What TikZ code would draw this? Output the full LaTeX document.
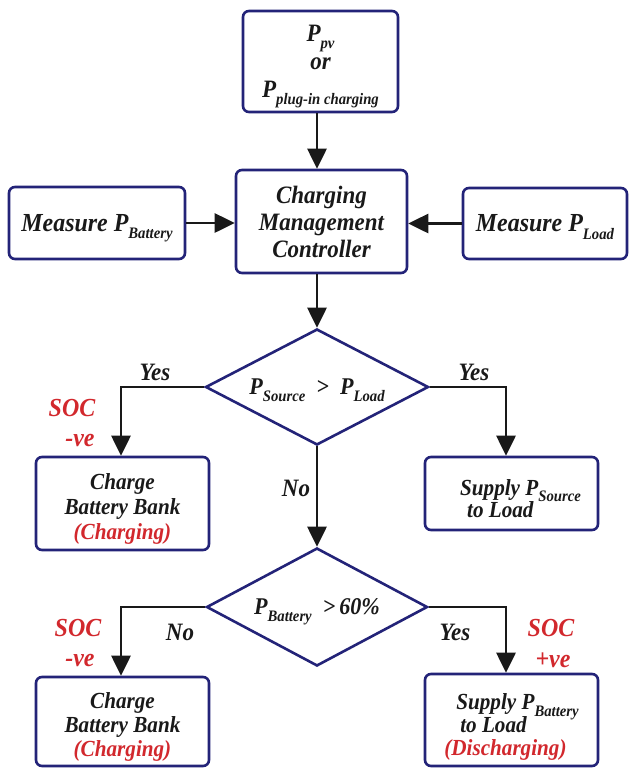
\documentclass[tikz,border=0pt]{standalone}
\usepackage{fontspec}
\setmainfont{Liberation Serif}[FakeStretch=0.92]
\usetikzlibrary{arrows.meta,shapes.geometric}
\definecolor{navy}{RGB}{35,35,120}
\definecolor{redt}{RGB}{210,40,45}
\definecolor{ink}{RGB}{25,25,25}
\newcommand{\mysub}[1]{\raisebox{-0.28em}[0pt][0pt]{\fontsize{16}{16}\selectfont #1}}
\newcommand{\myfs}[2]{\fontsize{#1}{#2}\selectfont\bfseries\itshape}
\newcommand{\mystrut}[1]{\rule{0pt}{#1}}
\tikzset{
  box/.style={draw=navy, line width=2.6pt, rounded corners=6pt, fill=white,
    align=center, inner sep=0pt, text=ink},
  dia/.style={draw=navy, line width=2.6pt, diamond, aspect=1.9, inner sep=0pt,
    fill=white, text=ink, font=\myfs{24}{26}},
  arr/.style={draw=black!90, line width=2.8pt, -{Triangle[width=19pt,length=20pt]}},
  lbl/.style={text=ink, font=\myfs{25}{26}, inner sep=0pt},
  soc/.style={text=redt, font=\myfs{26}{26}, inner sep=0pt},
}
\begin{document}
\begin{tikzpicture}[x=1pt,y=-1pt]
\useasboundingbox (0,0) rectangle (633,769);

% boxes
\node[box, minimum width=155pt, minimum height=101pt, font=\myfs{25}{28}] (src) at (320.5,61.5)
  {P\mysub{pv}\\or\\P\mysub{plug-in charging}};
\node[box, minimum width=171pt, minimum height=103pt, font=\myfs{25}{27}] (cmc) at (321.5,221.5)
  {Charging\\Management\\Controller};
\node[box, minimum width=176pt, minimum height=72pt, font=\myfs{26}{27}] (mb) at (97,223)
  {Measure P\mysub{Battery}};
\node[box, minimum width=164pt, minimum height=71pt, font=\myfs{26}{27}] (ml) at (545,223.5)
  {Measure P\mysub{Load}};

\node[dia, minimum width=223pt, minimum height=116pt] (d1) at (317,387)
  {P\mysub{Source}\ \ >\ \ P\mysub{Load}};
\node[dia, minimum width=221pt, minimum height=118pt] (d2) at (317,607)
  {P\mysub{Battery}\ \ >\,60\%};

\node[box, minimum width=173pt, minimum height=93pt, font=\myfs{23}{25}] (cb1) at (122.5,503.5)
  {\mystrut{26pt}Charge\\Battery Bank\\\textcolor{redt}{(Charging)}};
\node[box, minimum width=173pt, minimum height=73pt, font=\myfs{23}{22}, align=left] (sp1) at (511.5,493.5)
  {\hspace*{18pt}\mystrut{26pt}Supply P\mysub{Source}\\\hspace*{25pt}to Load};
\node[box, minimum width=173pt, minimum height=89pt, font=\myfs{23}{24}] (cb2) at (122.5,721.5)
  {\mystrut{26pt}Charge\\Battery Bank\\\textcolor{redt}{(Charging)}};
\node[box, minimum width=173pt, minimum height=92pt, font=\myfs{23}{23}, align=left] (sp2) at (511.5,720)
  {\hspace*{12pt}\mystrut{30pt}Supply P\mysub{Battery}\\\hspace*{16pt}to Load\\\textcolor{redt}{(Discharging)}};

% connectors
\draw[arr] (d1.north |- src.south) -- (d1.north |- cmc.north);
\draw[arr] (mb.east) -- (mb.east -| cmc.west);
\draw[arr] (ml.west) -- (ml.west -| cmc.east);
\draw[arr] (d1.north |- cmc.south) -- (d1.north);
\coordinate (c1) at (121,0);
\coordinate (c2) at (506,0);
\draw[arr] (d1.west) -| (c1 |- cb1.north);
\draw[arr] (d1.east) -| (c2 |- sp1.north);
\draw[arr] (d1.south) -- (d2.north);
\draw[arr] (d2.west) -| (c1 |- cb2.north);
\draw[arr] (d2.east) -| (c2 |- sp2.north);

% labels
\node[lbl] (y1) at (155,372) {Yes};
\node[lbl] (y2) at (474,372) {Yes};
\node[soc] (s1) at (72,408) {SOC};
\node[soc] (v1) at (80,440) {-ve};
\node[lbl] (n1) at (296,488) {No};
\node[soc] (s2) at (78,628) {SOC};
\node[soc] (v2) at (80,660) {-ve};
\node[lbl] (n2) at (180,632) {No};
\node[lbl] (y3) at (455,632) {Yes};
\node[soc] (s3) at (551,628) {SOC};
\node[soc] (v3) at (553,660) {+ve};
\end{tikzpicture}
\end{document}
